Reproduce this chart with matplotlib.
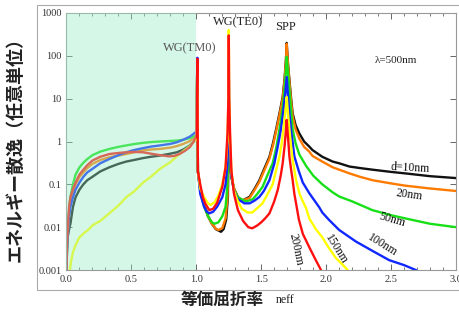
import matplotlib
matplotlib.use("Agg")
import matplotlib.pyplot as plt
from matplotlib.patches import Rectangle
from matplotlib.ticker import FixedLocator, MultipleLocator, FixedFormatter

# ---------------- data ----------------
x_10 = [0.0, 0.004, 0.01, 0.02, 0.03, 0.05, 0.07, 0.1, 0.13, 0.16, 0.2, 0.26, 0.33, 0.4, 0.46,
        0.52, 0.59, 0.65, 0.72, 0.8, 0.85, 0.9, 0.95, 0.98, 1.0,
        1.008, 1.012, 1.03, 1.06, 1.09, 1.12, 1.15, 1.19, 1.21, 1.23, 1.243, 1.249, 1.25, 1.252,
        1.26, 1.27, 1.29, 1.32, 1.355, 1.41, 1.45, 1.486, 1.52, 1.563, 1.59, 1.614, 1.64, 1.665,
        1.68, 1.69, 1.696, 1.706, 1.717, 1.73, 1.742, 1.765, 1.793, 1.83, 1.87, 1.895, 1.97,
        2.05, 2.1, 2.18, 2.26, 2.356, 2.5, 2.61, 2.8, 3.0]
y_10 = [0.001, 0.003, 0.006, 0.009, 0.012, 0.03, 0.05, 0.075, 0.1, 0.125, 0.15, 0.2, 0.25, 0.3, 0.34,
        0.37, 0.41, 0.44, 0.47, 0.52, 0.56, 0.65, 0.81, 1.0, 1.26,
        80, 0.2, 0.08, 0.035, 0.018, 0.012, 0.009, 0.0078, 0.009, 0.015, 0.05, 1.0, 10, 1.0,
        0.3, 0.15, 0.08, 0.05, 0.042, 0.051, 0.08, 0.125, 0.22, 0.44, 0.9, 1.9, 4.5, 11,
        30, 80, 200, 66, 27, 10, 4.5, 2.4, 1.55, 1.0, 0.76, 0.63, 0.44,
        0.34, 0.31, 0.26, 0.24, 0.22, 0.195, 0.18, 0.155, 0.14]

x_20 = [0.0, 0.004, 0.01, 0.02, 0.03, 0.05, 0.07, 0.1, 0.13, 0.16, 0.2, 0.26, 0.33, 0.4, 0.46,
        0.52, 0.59, 0.65, 0.72, 0.8, 0.85, 0.9, 0.95, 1.0,
        1.008, 1.012, 1.03, 1.06, 1.09, 1.12, 1.15, 1.17, 1.2, 1.225, 1.24, 1.248, 1.25, 1.253,
        1.26, 1.27, 1.29, 1.32, 1.355, 1.41, 1.45, 1.486, 1.52, 1.563, 1.59, 1.614, 1.64, 1.665,
        1.68, 1.69, 1.696, 1.706, 1.717, 1.73, 1.742, 1.765, 1.793, 1.83, 1.87, 1.895, 1.97,
        2.05, 2.1, 2.18, 2.26, 2.356, 2.5, 2.61, 2.8, 3.0]
y_20 = [0.001, 0.004, 0.008, 0.02, 0.04, 0.065, 0.1, 0.15, 0.19, 0.24, 0.3, 0.37, 0.43, 0.47, 0.51,
        0.56, 0.62, 0.65, 0.67, 0.72, 0.78, 0.88, 1.02, 1.35,
        80, 0.2, 0.08, 0.035, 0.018, 0.012, 0.0092, 0.0086, 0.0095, 0.016, 0.05, 1.0, 15, 1.0,
        0.35, 0.16, 0.08, 0.05, 0.042, 0.048, 0.075, 0.115, 0.2, 0.4, 0.8, 1.7, 4, 10,
        27, 75, 190, 60, 24, 8.5, 3.8, 1.9, 1.17, 0.75, 0.58, 0.46, 0.34,
        0.25, 0.22, 0.18, 0.15, 0.125, 0.105, 0.093, 0.08, 0.07]

x_50 = [0.0, 0.004, 0.01, 0.015, 0.02, 0.03, 0.05, 0.07, 0.1, 0.13, 0.16, 0.2, 0.26, 0.33, 0.4,
        0.46, 0.52, 0.59, 0.65, 0.72, 0.8, 0.85, 0.9, 0.95, 1.0,
        1.008, 1.012, 1.03, 1.06, 1.09, 1.12, 1.14, 1.17, 1.2, 1.225, 1.24, 1.248, 1.25, 1.252,
        1.26, 1.27, 1.29, 1.32, 1.36, 1.385, 1.435, 1.47, 1.51, 1.55, 1.588, 1.615, 1.64, 1.665,
        1.68, 1.69, 1.696, 1.706, 1.717, 1.73, 1.742, 1.765, 1.793, 1.845, 1.9, 1.97, 2.05,
        2.1, 2.2, 2.356, 2.5, 2.61, 2.8, 3.0]
y_50 = [0.001, 0.003, 0.008, 0.015, 0.025, 0.05, 0.1, 0.17, 0.25, 0.32, 0.39, 0.48, 0.58, 0.67, 0.75,
        0.81, 0.87, 0.93, 0.97, 1.0, 1.03, 1.05, 1.1, 1.2, 1.4,
        80, 0.2, 0.07, 0.03, 0.018, 0.013, 0.012, 0.013, 0.018, 0.03, 0.1, 2.0, 30, 2.0,
        0.4, 0.15, 0.075, 0.05, 0.043, 0.04, 0.045, 0.06, 0.087, 0.17, 0.31, 0.7, 1.9, 6,
        18, 45, 95, 40, 16, 5, 1.9, 0.9, 0.5, 0.27, 0.16, 0.1, 0.065,
        0.052, 0.04, 0.025, 0.019, 0.016, 0.012, 0.01]

x_100 = [0.0, 0.004, 0.01, 0.015, 0.02, 0.03, 0.05, 0.07, 0.1, 0.13, 0.16, 0.2, 0.26, 0.33, 0.4,
         0.46, 0.52, 0.59, 0.65, 0.72, 0.8, 0.85, 0.9, 0.95, 1.0,
         1.008, 1.012, 1.03, 1.06, 1.08, 1.10, 1.13, 1.16, 1.2, 1.225, 1.24, 1.248, 1.25, 1.252,
         1.26, 1.27, 1.29, 1.32, 1.37, 1.41, 1.45, 1.486, 1.52, 1.563, 1.6, 1.627, 1.65, 1.67,
         1.685, 1.696, 1.706, 1.717, 1.73, 1.742, 1.755, 1.79, 1.82, 1.87, 1.947, 1.97, 2.02,
         2.1, 2.23, 2.356, 2.485, 2.6, 2.69]
y_100 = [0.001, 0.003, 0.007, 0.012, 0.018, 0.03, 0.05, 0.075, 0.11, 0.15, 0.19, 0.23, 0.31, 0.39, 0.48,
         0.56, 0.63, 0.7, 0.76, 0.81, 0.88, 0.96, 1.1, 1.3, 1.7,
         90, 0.2, 0.06, 0.03, 0.023, 0.021, 0.023, 0.03, 0.05, 0.1, 0.3, 4, 60, 4,
         0.5, 0.16, 0.07, 0.045, 0.036, 0.036, 0.042, 0.051, 0.07, 0.125, 0.3, 0.76, 1.8, 5,
         13, 32, 12, 4.5, 1.8, 0.95, 0.45, 0.2, 0.11, 0.062, 0.029, 0.022, 0.015,
         0.0086, 0.0046, 0.0028, 0.0017, 0.0013, 0.001]

x_150 = [0.026, 0.035, 0.05, 0.068, 0.1, 0.14, 0.17, 0.2, 0.26, 0.33, 0.4, 0.46, 0.52, 0.59, 0.65,
         0.72, 0.8, 0.85, 0.9, 0.95, 1.0,
         1.008, 1.012, 1.03, 1.06, 1.09, 1.11, 1.14, 1.17, 1.2, 1.225, 1.24, 1.247, 1.25, 1.253,
         1.26, 1.27, 1.29, 1.32, 1.35, 1.395, 1.43, 1.47, 1.51, 1.55, 1.588, 1.62, 1.64, 1.66,
         1.675, 1.688, 1.696, 1.705, 1.715, 1.73, 1.742, 1.768, 1.795, 1.82, 1.845, 1.87, 1.92,
         1.97, 2.02, 2.075, 2.12, 2.165]
y_150 = [0.001, 0.0016, 0.0026, 0.0037, 0.0058, 0.0075, 0.0088, 0.011, 0.014, 0.021, 0.032, 0.05, 0.068, 0.11, 0.15,
         0.23, 0.33, 0.45, 0.6, 0.78, 1.15,
         80, 0.2, 0.08, 0.05, 0.036, 0.033, 0.038, 0.055, 0.1, 0.25, 1.0, 10, 400, 10,
         1.0, 0.2, 0.07, 0.04, 0.027, 0.022, 0.022, 0.028, 0.036, 0.06, 0.1, 0.25, 0.44, 1.0,
         2.5, 6, 11, 5, 2.2, 0.76, 0.37, 0.125, 0.06, 0.04, 0.028, 0.016, 0.009,
         0.0058, 0.0033, 0.0019, 0.0014, 0.001]

x_200 = [0.0, 0.004, 0.01, 0.015, 0.02, 0.03, 0.05, 0.07, 0.1, 0.13, 0.16, 0.2, 0.26, 0.33, 0.4,
         0.46, 0.52, 0.59, 0.65, 0.72, 0.79, 0.83, 0.87, 0.91, 0.95, 0.98, 1.0,
         1.008, 1.012, 1.03, 1.05, 1.07, 1.10, 1.13, 1.16, 1.2, 1.225, 1.24, 1.247, 1.25, 1.253,
         1.26, 1.27, 1.29, 1.32, 1.36, 1.4, 1.43, 1.47, 1.5, 1.53, 1.563, 1.6, 1.627, 1.65,
         1.665, 1.68, 1.69, 1.696, 1.705, 1.717, 1.73, 1.742, 1.755, 1.768, 1.79, 1.82, 1.87,
         1.92, 1.96]
y_200 = [0.001, 0.004, 0.009, 0.018, 0.03, 0.05, 0.078, 0.11, 0.17, 0.22, 0.28, 0.36, 0.44, 0.51, 0.54,
         0.56, 0.57, 0.56, 0.52, 0.48, 0.45, 0.46, 0.51, 0.6, 0.74, 1.0, 1.38,
         85, 0.2, 0.1, 0.05, 0.035, 0.025, 0.027, 0.037, 0.087, 0.25, 1.5, 10, 300, 10,
         1.5, 0.21, 0.06, 0.025, 0.014, 0.01, 0.0094, 0.011, 0.013, 0.016, 0.021, 0.04, 0.074, 0.16,
         0.31, 0.8, 1.8, 3.2, 1.4, 0.44, 0.22, 0.125, 0.06, 0.036, 0.015, 0.007, 0.0034,
         0.0017, 0.001]

series = [
    ("d=10nm", x_10, y_10, "#111111"),
    ("20nm", x_20, y_20, "#ff7a00"),
    ("50nm", x_50, y_50, "#18e018"),
    ("100nm", x_100, y_100, "#1028ff"),
    ("150nm", x_150, y_150, "#ffff00"),
    ("200nm", x_200, y_200, "#ff1010"),
]

x_ticks = [0.0, 0.5, 1.0, 1.5, 2.0, 2.5, 3.0]
x_tick_labels = ["0.0", "0.5", "1.0", "1.5", "2.0", "2.5", "3.0"]
y_ticks = [0.001, 0.01, 0.1, 1, 10, 100, 1000]
y_tick_labels = ["0.001", "0.01", "0.1", "1", "10", "100", "1000"]

curve_labels = [
    ("d=10nm", 2.65, 0.24, -3),
    ("20nm", 2.64, 0.056, -8),
    ("50nm", 2.51, 0.0146, -16),
    ("100nm", 2.43, 0.0038, -32),
    ("150nm", 2.08, 0.0030, -58),
    ("200nm", 1.77, 0.0030, -78),
]
mode_labels = [
    ("WG(TM0)", 0.95, 150, "#555555"),
    ("WG(TE0)", 1.32, 600, "#222222"),
    ("SPP", 1.69, 470, "#222222"),
]

# ---------------- figure ----------------
serif = ["Liberation Serif", "DejaVu Serif"]
fig = plt.figure(figsize=(4.6, 3.2), dpi=100)
ax = fig.add_axes([66.5 / 460, 1 - 270 / 320, (456 - 66.5) / 460, (270 - 13) / 320])

for name, xs, ys, col in series:
    ax.plot(xs, ys, color=col, lw=1.7, solid_joinstyle="round", zorder=2)

# translucent shading over the 0..1 region
ax.axvspan(0.0, 1.0, color="#96edc5", alpha=0.4, lw=0, zorder=3)

ax.set_yscale("log")
ax.set_xlim(0, 3.0)
ax.set_ylim(0.001, 1000)
ax.yaxis.set_major_locator(FixedLocator(y_ticks))
ax.yaxis.set_major_formatter(FixedFormatter(y_tick_labels))
ax.yaxis.set_minor_locator(FixedLocator([]))
ax.set_xticks(x_ticks)
ax.set_xticklabels(x_tick_labels)
ax.xaxis.set_minor_locator(MultipleLocator(0.1))
ax.tick_params(which="both", direction="in", top=True, right=True, colors="#666666",
               labelcolor="#333333", labelsize=7.5)
ax.tick_params(which="major", length=4, width=0.7)
ax.tick_params(which="minor", length=2.5, width=0.6)
for lab in ax.get_xticklabels() + ax.get_yticklabels():
    lab.set_fontfamily(serif)
for sp in ax.spines.values():
    sp.set_color("#999999")
    sp.set_linewidth(0.8)

for txt, x, y, rot in curve_labels:
    ax.text(x, y, txt, rotation=rot, ha="center", va="center", fontsize=8.5,
            family=serif, color="#111111", zorder=5, rotation_mode="anchor")
for txt, x, y, col in mode_labels:
    ax.text(x, y, txt, ha="center", va="center", fontsize=9, family=serif, color=col, zorder=5)
ax.text(2.54, 76, "λ=500nm", ha="center", va="center", fontsize=8, family=serif,
        color="#222222", zorder=5)

# outer frame
fig.patches.append(Rectangle((37 / 460, 1 - 290 / 320), 1.0, 285 / 320,
                             transform=fig.transFigure, fill=False,
                             edgecolor="#aaaaaa", lw=0.8))

jp = ["Noto Sans CJK JP", "DejaVu Sans"]
fig.text(15 / 460, 1 - 145 / 320, "エネルギー散逸（任意単位）", rotation=90, ha="center",
         va="center", fontsize=13, family=jp, fontweight="bold", color="#222222")
fig.text(222 / 460, 1 - 300 / 320, "等価屈折率", ha="center", va="center", fontsize=12,
         family=jp, fontweight="bold", color="#222222")
fig.text(285 / 460, 1 - 300 / 320, "neff", ha="center", va="center", fontsize=8.5,
         family=serif, color="#222222")

fig.savefig("out.png", dpi=100)
